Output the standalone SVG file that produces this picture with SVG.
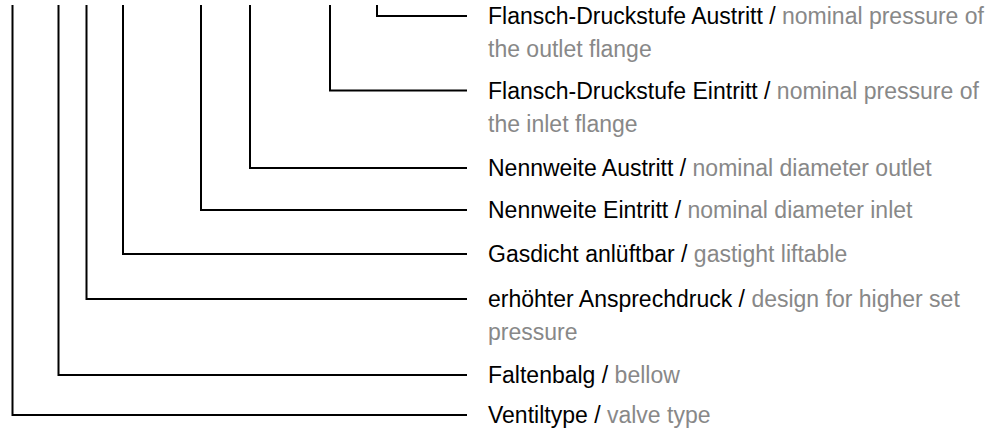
<svg xmlns="http://www.w3.org/2000/svg" width="999" height="432" viewBox="0 0 999 432">
<style>
.c{fill:none;stroke:#000;stroke-width:2}
text{font-family:"Liberation Sans",Arial,Helvetica,sans-serif;font-size:23px;fill:#000}
.g{fill:#888}
</style>
<rect width="999" height="432" fill="#fff"/>
<g id="connectors">
<polyline class="c" points="377,5 377,16 467,16"/>
<polyline class="c" points="330,5 330,90.5 467,90.5"/>
<polyline class="c" points="250,5 250,168 467,168"/>
<polyline class="c" points="201,5 201,210 467,210"/>
<polyline class="c" points="123,5 123,254 467,254"/>
<polyline class="c" points="86.5,5 86.5,299 467,299"/>
<polyline class="c" points="58.5,5 58.5,375 467,375"/>
<polyline class="c" points="12.5,5 12.5,415 467,415"/>
</g>
<g id="n1"><text x="488" y="24">Flansch-Druckstufe Austritt / <tspan class="g">nominal pressure of</tspan></text><text class="g" x="488" y="57">the outlet flange</text></g>
<g id="n2"><text x="488" y="98.5">Flansch-Druckstufe Eintritt / <tspan class="g">nominal pressure of</tspan></text><text class="g" x="488" y="131.5">the inlet flange</text></g>
<g id="n3"><text x="488" y="176">Nennweite Austritt / <tspan class="g">nominal diameter outlet</tspan></text></g>
<g id="n4"><text x="488" y="218">Nennweite Eintritt / <tspan class="g">nominal diameter inlet</tspan></text></g>
<g id="n5"><text x="488" y="262">Gasdicht anlüftbar / <tspan class="g">gastight liftable</tspan></text></g>
<g id="n6"><text x="488" y="307">erhöhter Ansprechdruck / <tspan class="g">design for higher set</tspan></text><text class="g" x="488" y="340">pressure</text></g>
<g id="n7"><text x="488" y="383">Faltenbalg / <tspan class="g">bellow</tspan></text></g>
<g id="n8"><text x="488" y="423">Ventiltype / <tspan class="g">valve type</tspan></text></g>
</svg>
